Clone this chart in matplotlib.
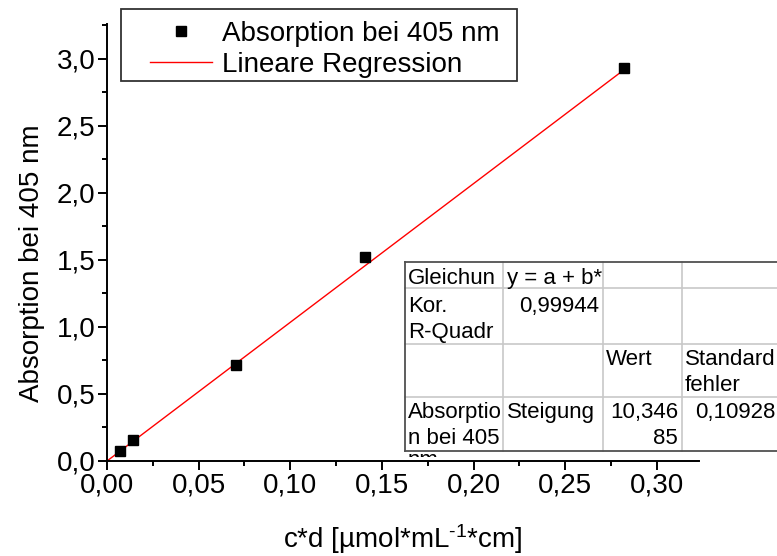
import matplotlib
matplotlib.use("Agg")
import matplotlib.pyplot as plt
from matplotlib.lines import Line2D
from matplotlib.patches import Rectangle
from matplotlib.transforms import Bbox
from matplotlib.ticker import MultipleLocator, FuncFormatter

plt.rcParams['font.family'] = ['Liberation Sans', 'DejaVu Sans']
plt.rcParams['mathtext.fontset'] = 'custom'
plt.rcParams['mathtext.rm'] = 'Liberation Sans'
plt.rcParams['mathtext.it'] = 'Liberation Sans'

# data
conc = [0.00705, 0.0141, 0.0705, 0.141, 0.282]
absorb = [0.075, 0.157, 0.716, 1.52, 2.93]
slope = 10.34685  # from the fit table, intercept ~0

W, H = 777, 556
fig = plt.figure(figsize=(W / 100, H / 100), dpi=100)
ax = fig.add_axes([107 / W, 1 - 461 / H, 592 / W, 437 / H])

fit_x = [0, max(conc)]
fit_y = [slope * v for v in fit_x]
ax.plot(fit_x, fit_y, color='red', lw=1.0, label='Lineare Regression', zorder=2)
ax.plot(conc, absorb, 's', color='black', ms=7.5, label='Absorption bei 405 nm', zorder=3)

ax.set_xlim(0, 0.323)
ax.set_ylim(0, 3.26)
ax.xaxis.set_major_locator(MultipleLocator(0.05))
ax.xaxis.set_minor_locator(MultipleLocator(0.025))
ax.yaxis.set_major_locator(MultipleLocator(0.5))
ax.yaxis.set_minor_locator(MultipleLocator(0.25))
ax.xaxis.set_major_formatter(FuncFormatter(lambda v, p: f"{v:.2f}".replace('.', ',')))
ax.yaxis.set_major_formatter(FuncFormatter(lambda v, p: f"{v:.1f}".replace('.', ',')))

for s in ['top', 'right']:
    ax.spines[s].set_visible(False)
for s in ['left', 'bottom']:
    ax.spines[s].set_linewidth(1.4)
ax.tick_params(which='major', direction='out', length=6.5, width=1.4, labelsize=20, pad=2)
ax.tick_params(which='minor', direction='out', length=3.5, width=1.4)

ax.set_xlabel('c*d [µmol*mL$^{\u2010 1}$*cm]', fontsize=20)
ax.set_ylabel('Absorption bei 405 nm', fontsize=20)
ax.xaxis.set_label_coords(0.5, -0.14)
ax.yaxis.set_label_coords(-0.105, 0.453)

# legend: entries without frame, box drawn separately
handles, labels = ax.get_legend_handles_labels()
leg = fig.legend(handles[::-1], labels[::-1], loc='upper left',
                 bbox_to_anchor=(150 / W, 1 - 21 / H), fontsize=20,
                 frameon=False, handlelength=2.23, handletextpad=0.36,
                 labelspacing=0.17, borderpad=0, borderaxespad=0,
                 markerscale=0.9)
fig.add_artist(Rectangle((121 / W, 1 - 81 / H), 396 / W, 72 / H, transform=fig.transFigure,
                         fill=False, edgecolor='#333333', lw=1.3))

# fit result table (pixel layout, clipped at the figure edge)
def fx(px):
    return px / W

def fy(py):
    return 1 - py / H

cols = [405, 503, 603, 682, 790]
rows = [262, 288, 344, 397, 451]
inner = '#c8c8c8'
outer = '#505050'
for c in cols[1:-1]:
    fig.add_artist(Line2D([fx(c), fx(c)], [fy(rows[0]), fy(rows[-1])], color=inner, lw=1.2))
for r in rows[1:-1]:
    fig.add_artist(Line2D([fx(cols[0]), fx(cols[-1])], [fy(r), fy(r)], color=inner, lw=1.2))
fig.add_artist(Line2D([fx(cols[0]), fx(cols[0])], [fy(rows[0]), fy(rows[-1])], color=outer, lw=1.3))
fig.add_artist(Line2D([fx(cols[0]), fx(cols[-1])], [fy(rows[0]), fy(rows[0])], color=outer, lw=1.3))
fig.add_artist(Line2D([fx(cols[0]), fx(cols[-1])], [fy(rows[-1]), fy(rows[-1])], color=outer, lw=1.3))

clip = Bbox.from_extents(cols[0], H - 457, W, H - rows[0])
cells = [
    (408, 284, 'Gleichun', 'left'),
    (507, 284, 'y = a + b*', 'left'),
    (408, 312, 'Kor.', 'left'),
    (408, 338, 'R-Quadr', 'left'),
    (599, 312, '0,99944', 'right'),
    (606, 365, 'Wert', 'left'),
    (685, 365, 'Standard', 'left'),
    (685, 391, 'fehler', 'left'),
    (408, 418, 'Absorptio', 'left'),
    (408, 444, 'n bei 405', 'left'),
    (408, 466, 'nm', 'left'),
    (507, 418, 'Steigung', 'left'),
    (678, 418, '10,346', 'right'),
    (678, 444, '85', 'right'),
    (775, 418, '0,10928', 'right'),
]
for x, y, t, ha in cells:
    txt = fig.text(fx(x), fy(y), t, fontsize=16, ha=ha, va='baseline')
    txt.set_clip_box(clip)
    txt.set_clip_on(True)

fig.savefig('out.png', dpi=100)
